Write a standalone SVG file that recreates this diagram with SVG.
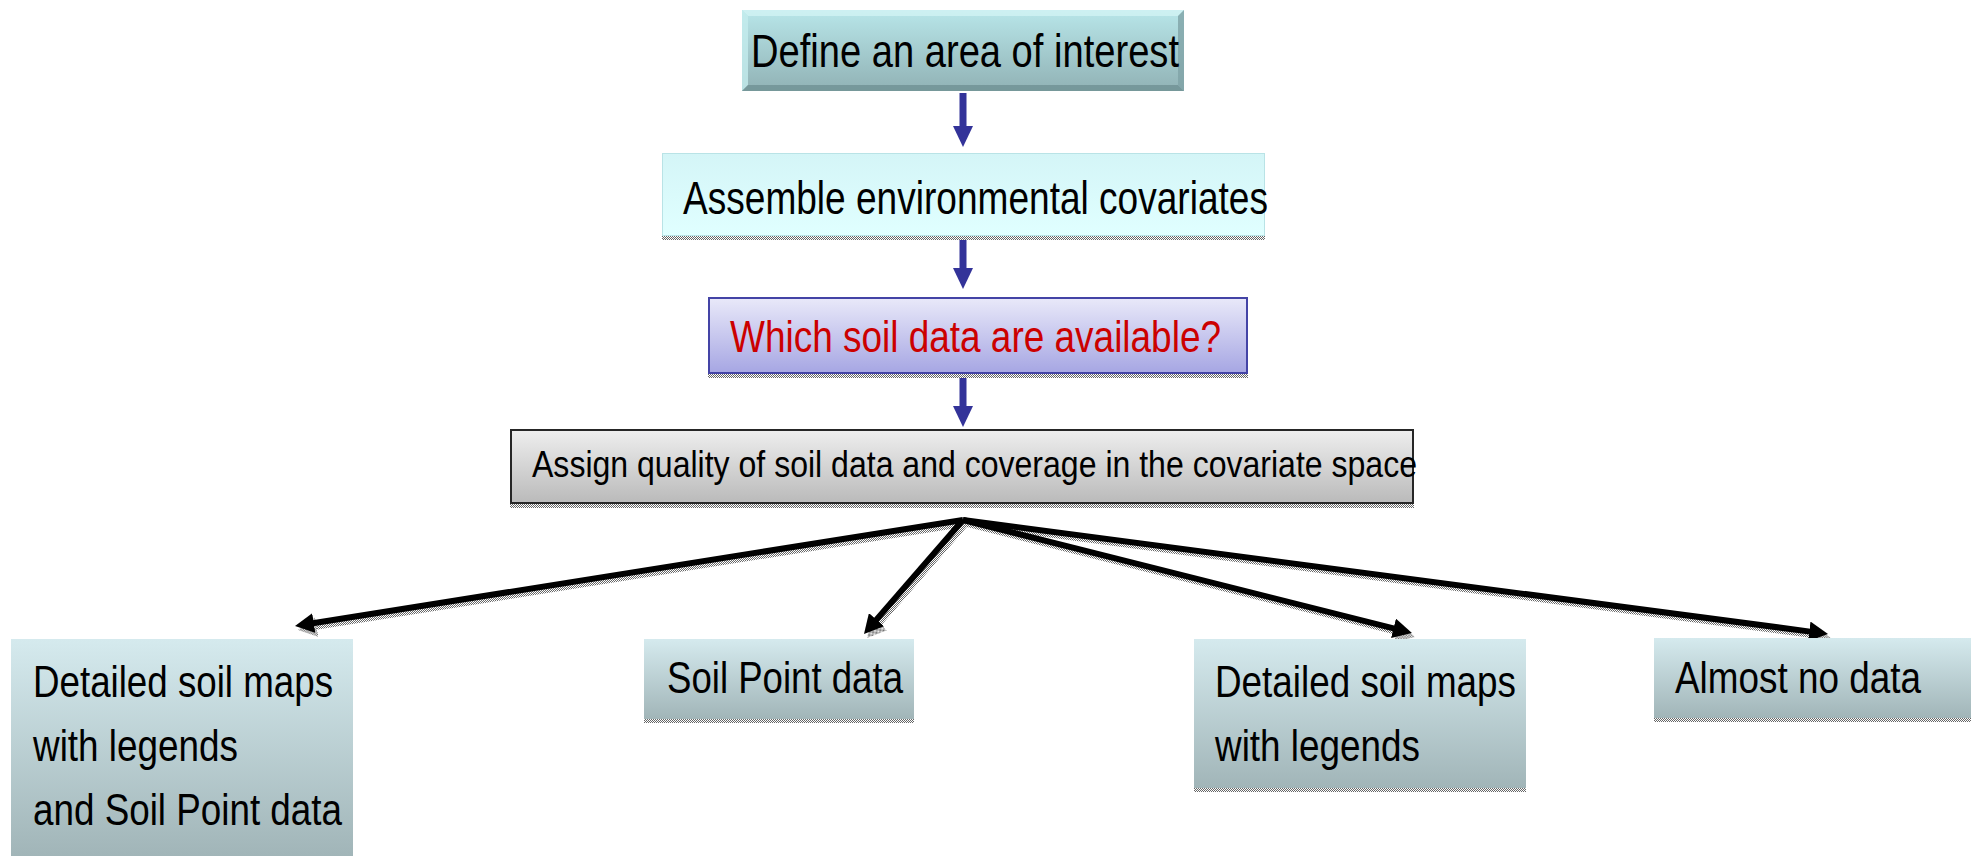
<svg xmlns="http://www.w3.org/2000/svg" width="1971" height="856" viewBox="0 0 1971 856">
<style>
.t{font-family:"Liberation Sans Narrow","Arial Narrow","Liberation Sans",Arial,sans-serif;fill:#000}
.big{font-size:46px}
.mid{font-size:45px}
.sm{font-size:37px}
.red{fill:#cc0000}
.blue{fill:#333399}
.blk{stroke:#000;stroke-width:6;fill:none}
.shd{stroke:url(#dots);stroke-width:5;fill:none}
</style>
<defs>
<linearGradient id="g1" x1="0" y1="0" x2="0" y2="1"><stop offset="0" stop-color="#b8e6e9"/><stop offset="1" stop-color="#91b2b5"/></linearGradient>
<linearGradient id="g2" x1="0" y1="0" x2="0" y2="1"><stop offset="0" stop-color="#d4f5f7"/><stop offset="1" stop-color="#e0ffff"/></linearGradient>
<linearGradient id="g3" x1="0" y1="0" x2="0" y2="1"><stop offset="0" stop-color="#e9e9f9"/><stop offset="1" stop-color="#a6a6e3"/></linearGradient>
<linearGradient id="g4" x1="0" y1="0" x2="0" y2="1"><stop offset="0" stop-color="#eeeeee"/><stop offset="1" stop-color="#bababa"/></linearGradient>
<linearGradient id="g5" x1="0" y1="0" x2="0" y2="1"><stop offset="0" stop-color="#d5eaee"/><stop offset="1" stop-color="#a1b5b8"/></linearGradient>
<pattern id="dots" width="2" height="2" patternUnits="userSpaceOnUse"><rect width="2" height="2" fill="#ffffff"/><rect width="1" height="1" fill="#666"/><rect x="1" y="1" width="1" height="1" fill="#666"/></pattern>
<marker id="ah" markerUnits="userSpaceOnUse" markerWidth="20" markerHeight="20" refX="1" refY="10" orient="auto"><path d="M0,0 L19,10 L0,20 z" fill="#000"/></marker>
<marker id="ahs" markerUnits="userSpaceOnUse" markerWidth="20" markerHeight="20" refX="1" refY="10" orient="auto"><path d="M0,0 L19,10 L0,20 z" fill="url(#dots)"/></marker>
</defs>
<rect width="1971" height="856" fill="#ffffff"/>

<g id="connectors">
  <g id="blue-arrows">
    <rect class="blue" x="959.5" y="93" width="7" height="34"/>
    <polygon class="blue" points="953,126 973,126 963,147"/>
    <rect class="blue" x="959.5" y="238" width="7" height="31"/>
    <polygon class="blue" points="953,268 973,268 963,289"/>
    <rect class="blue" x="959.5" y="375" width="7" height="32"/>
    <polygon class="blue" points="953,406 973,406 963,427"/>
  </g>
  <g id="arrow-shadows" transform="translate(3,4)">
    <line class="shd" x1="963" y1="520" x2="312.8" y2="623.2" marker-end="url(#ahs)"/>
    <line class="shd" x1="963" y1="520" x2="875.8" y2="620.4" marker-end="url(#ahs)"/>
    <line class="shd" x1="963" y1="520" x2="1394.5" y2="628.6" marker-end="url(#ahs)"/>
    <line class="shd" x1="963" y1="520" x2="1810.2" y2="631.6" marker-end="url(#ahs)"/>
  </g>
  <g id="black-arrows">
    <line class="blk" x1="963" y1="520" x2="312.8" y2="623.2" marker-end="url(#ah)"/>
    <line class="blk" x1="963" y1="520" x2="875.8" y2="620.4" marker-end="url(#ah)"/>
    <line class="blk" x1="963" y1="520" x2="1394.5" y2="628.6" marker-end="url(#ah)"/>
    <line class="blk" x1="963" y1="520" x2="1810.2" y2="631.6" marker-end="url(#ah)"/>
  </g>
</g>

<g id="node-define">
  <rect x="742" y="10" width="442" height="81" fill="url(#g1)"/>
  <polygon points="742,10 1184,10 1178,16 748,16" fill="#d2f2f4" opacity="0.8"/>
  <polygon points="742,10 748,16 748,85 742,91" fill="#c4ecee" opacity="0.8"/>
  <polygon points="742,91 748,85 1178,85 1184,91" fill="#6f9194" opacity="0.8"/>
  <polygon points="1184,10 1184,91 1178,85 1178,16" fill="#7fa3a6" opacity="0.8"/>
  <text class="t big" x="751" y="67" textLength="428" lengthAdjust="spacingAndGlyphs">Define an area of interest</text>
</g>

<g id="node-assemble">
  <rect x="662" y="236" width="603" height="4" fill="url(#dots)"/>
  <rect x="662.5" y="153.5" width="602" height="82" fill="url(#g2)" stroke="#b9e3e6" stroke-width="1"/>
  <text class="t big" x="683" y="214" textLength="585" lengthAdjust="spacingAndGlyphs">Assemble environmental covariates</text>
</g>

<g id="node-which">
  <rect x="708" y="374" width="540" height="4" fill="url(#dots)"/>
  <rect x="709" y="298" width="538" height="75" fill="url(#g3)" stroke="#4444a6" stroke-width="2"/>
  <text class="t mid red" x="730" y="352" textLength="491" lengthAdjust="spacingAndGlyphs">Which soil data are available?</text>
</g>

<g id="node-assign">
  <rect x="510" y="504" width="904" height="4" fill="url(#dots)"/>
  <rect x="511" y="430" width="902" height="73" fill="url(#g4)" stroke="#262626" stroke-width="2"/>
  <text class="t sm" x="532" y="477" textLength="885" lengthAdjust="spacingAndGlyphs">Assign quality of soil data and coverage in the covariate space</text>
</g>

<g id="node-maps-points">
  <rect x="11" y="639" width="342" height="217" fill="url(#g5)"/>
  <text class="t mid" x="33" y="697" textLength="300" lengthAdjust="spacingAndGlyphs">Detailed soil maps</text>
  <text class="t mid" x="33" y="761" textLength="205" lengthAdjust="spacingAndGlyphs">with legends</text>
  <text class="t mid" x="33" y="825" textLength="309" lengthAdjust="spacingAndGlyphs">and Soil Point data</text>
</g>

<g id="node-points">
  <rect x="644" y="719" width="270" height="4" fill="url(#dots)"/>
  <rect x="644" y="639" width="270" height="80" fill="url(#g5)"/>
  <text class="t mid" x="667" y="693" textLength="236" lengthAdjust="spacingAndGlyphs">Soil Point data</text>
</g>

<g id="node-maps">
  <rect x="1194" y="788" width="332" height="4" fill="url(#dots)"/>
  <rect x="1194" y="639" width="332" height="149" fill="url(#g5)"/>
  <text class="t mid" x="1215" y="697" textLength="301" lengthAdjust="spacingAndGlyphs">Detailed soil maps</text>
  <text class="t mid" x="1215" y="761" textLength="205" lengthAdjust="spacingAndGlyphs">with legends</text>
</g>

<g id="node-nodata">
  <rect x="1654" y="718" width="317" height="4" fill="url(#dots)"/>
  <rect x="1654" y="638" width="320" height="80" fill="url(#g5)"/>
  <text class="t mid" x="1675" y="693" textLength="246" lengthAdjust="spacingAndGlyphs">Almost no data</text>
</g>
</svg>
